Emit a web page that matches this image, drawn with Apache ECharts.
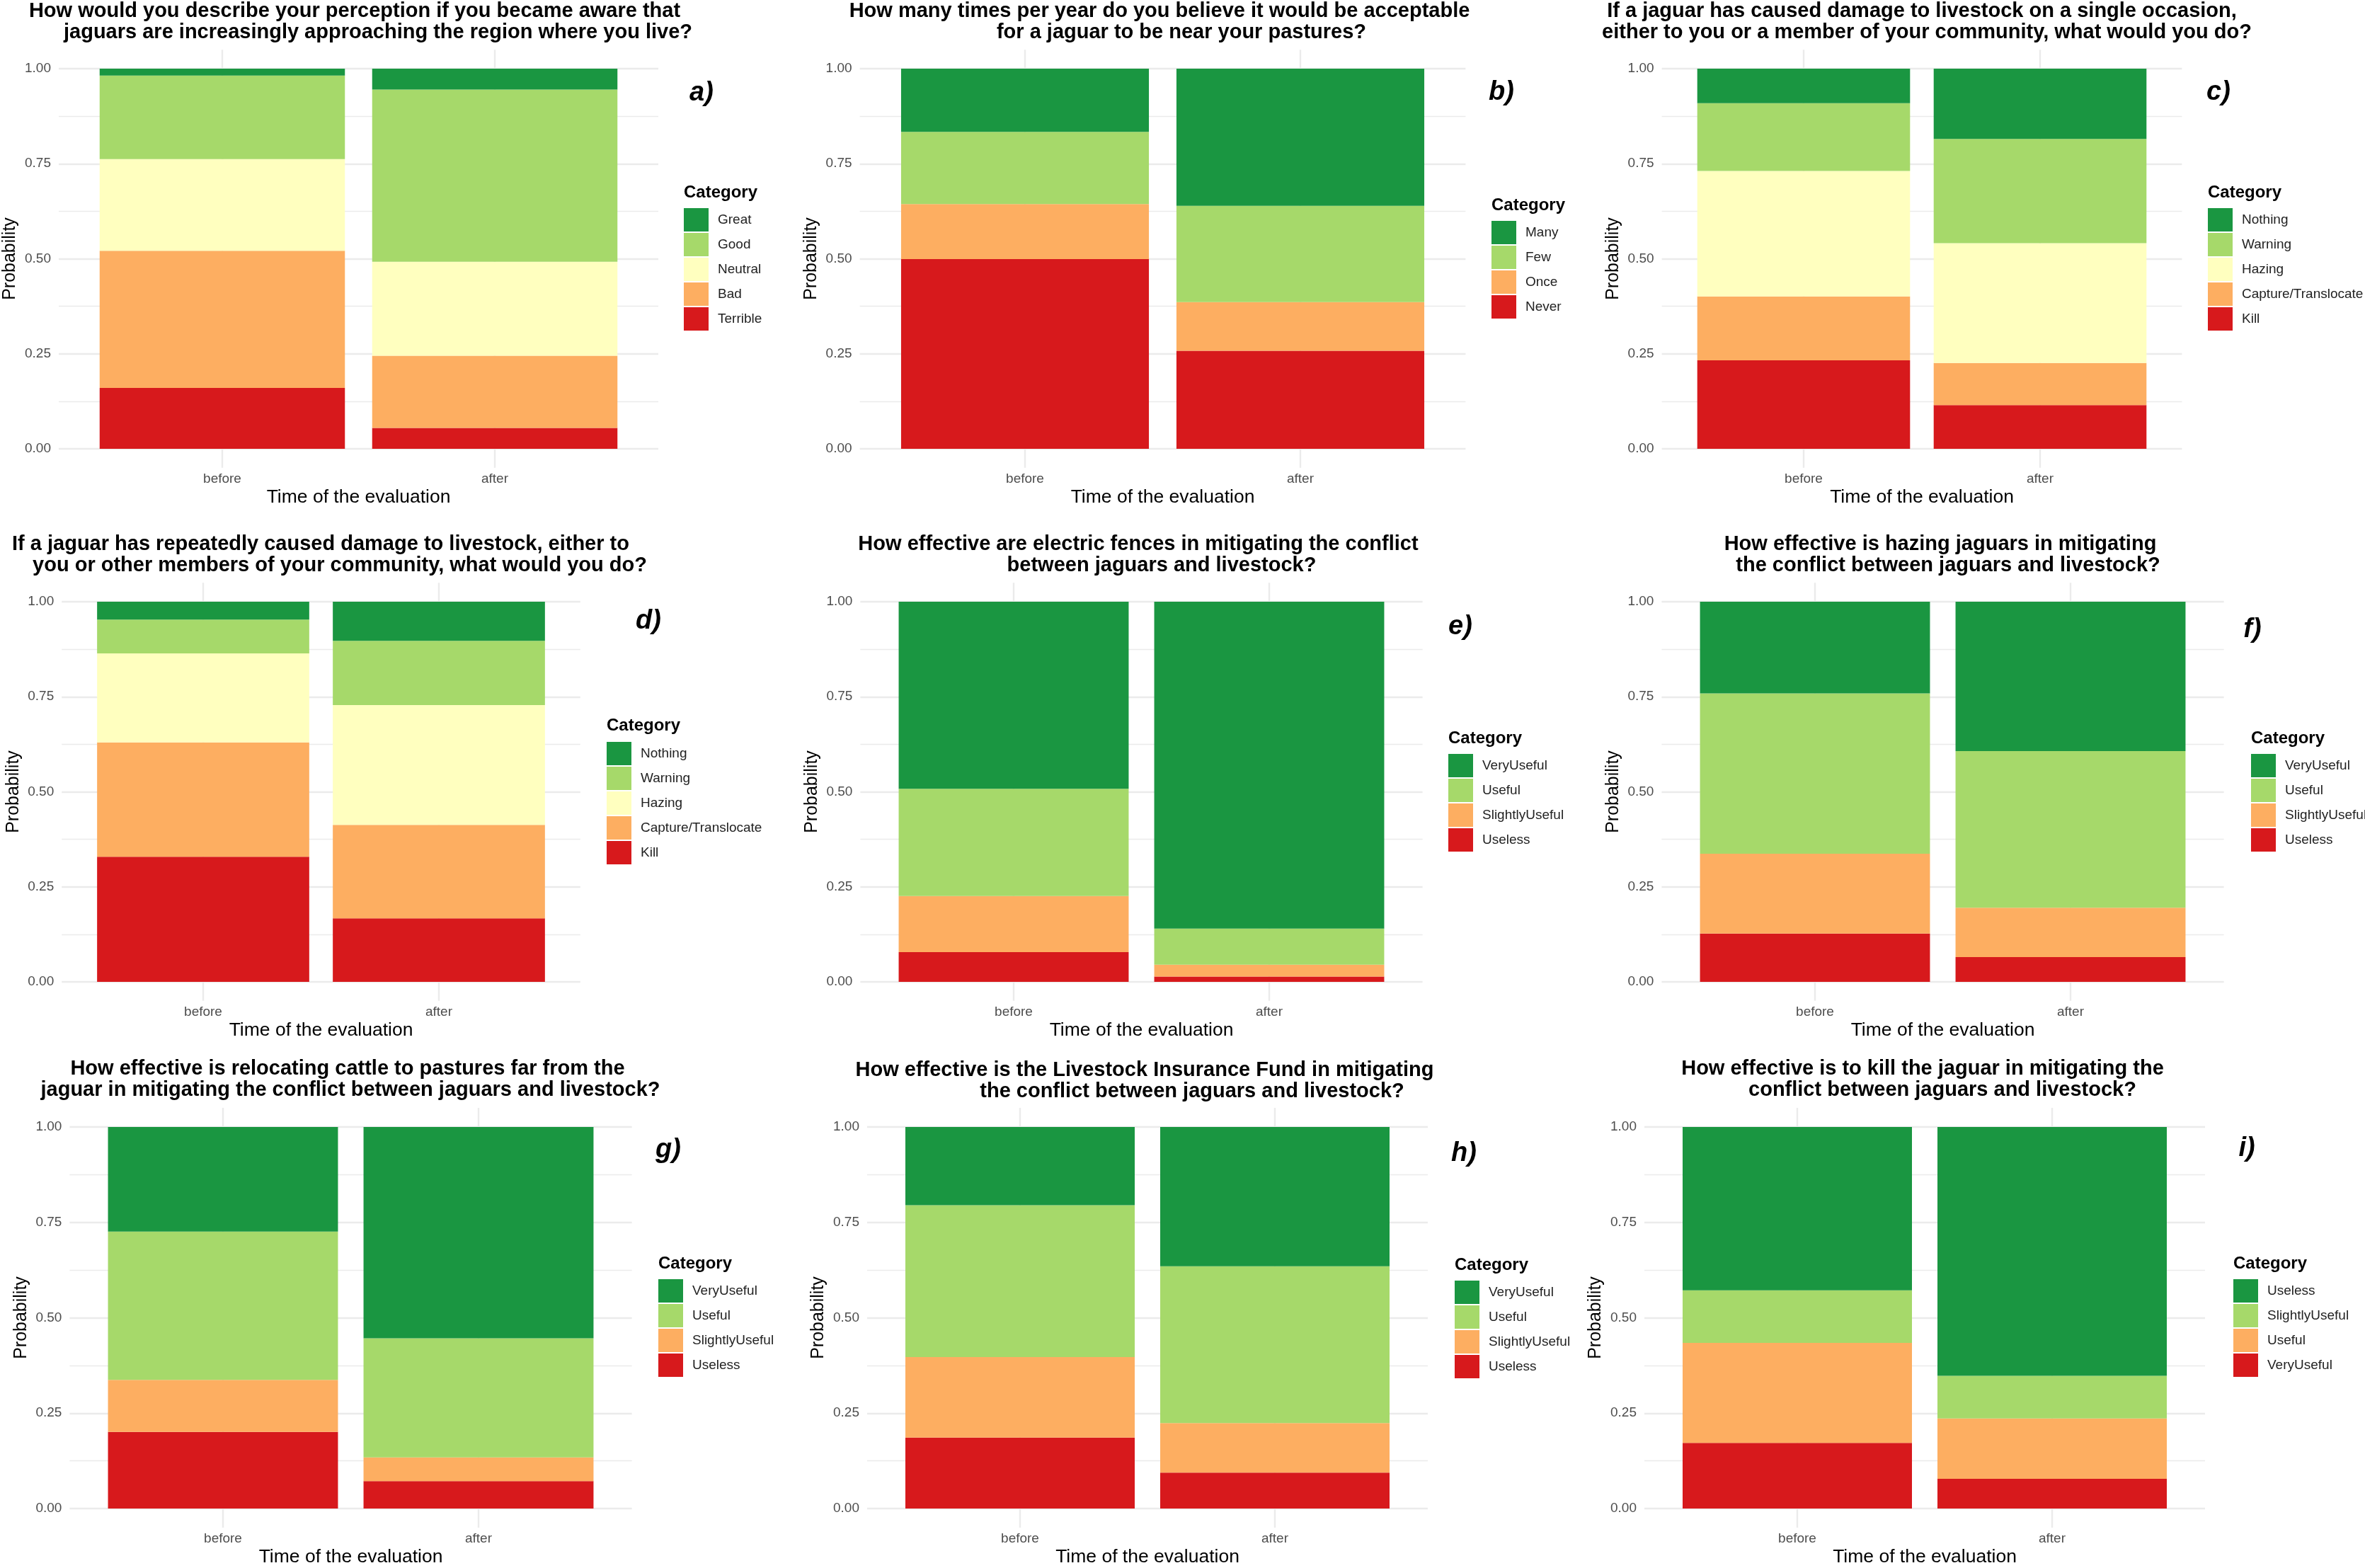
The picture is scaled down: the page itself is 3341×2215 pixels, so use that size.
<!DOCTYPE html>
<html><head><meta charset="utf-8">
<script src="https://cdn.jsdelivr.net/npm/echarts@6/dist/echarts.min.js"></script>
<style>html,body{margin:0;padding:0;background:#fff}#c{width:3341px;height:2215px}</style>
</head><body><div id="c"></div>
<script>
// ---------------- DATA ----------------
const times = ['before', 'after'];
const yTickValues = [0, 0.25, 0.5, 0.75, 1];

const perceptionCategories = ['Terrible', 'Bad', 'Neutral', 'Good', 'Great'];
const perceptionBefore = [0.160, 0.361, 0.241, 0.220, 0.018];
const perceptionAfter  = [0.055, 0.190, 0.247, 0.453, 0.055];

const frequencyCategories = ['Never', 'Once', 'Few', 'Many'];
const frequencyBefore = [0.499, 0.145, 0.190, 0.166];
const frequencyAfter  = [0.258, 0.128, 0.253, 0.361];

const actionCategories = ['Kill', 'Capture/Translocate', 'Hazing', 'Warning', 'Nothing'];
const singleBefore   = [0.233, 0.168, 0.330, 0.178, 0.091];
const singleAfter    = [0.115, 0.111, 0.315, 0.274, 0.185];
const repeatedBefore = [0.329, 0.301, 0.234, 0.089, 0.047];
const repeatedAfter  = [0.167, 0.246, 0.315, 0.169, 0.103];

const usefulnessCategories = ['Useless', 'SlightlyUseful', 'Useful', 'VeryUseful'];
const fencesBefore     = [0.078, 0.148, 0.282, 0.492];
const fencesAfter      = [0.014, 0.031, 0.095, 0.860];
const hazingBefore     = [0.127, 0.210, 0.422, 0.241];
const hazingAfter      = [0.065, 0.130, 0.412, 0.393];
const relocatingBefore = [0.201, 0.136, 0.389, 0.274];
const relocatingAfter  = [0.072, 0.062, 0.312, 0.554];
const insuranceBefore  = [0.186, 0.211, 0.398, 0.205];
const insuranceAfter   = [0.094, 0.130, 0.411, 0.365];

const killCategories = ['VeryUseful', 'Useful', 'SlightlyUseful', 'Useless'];
const killBefore = [0.172, 0.262, 0.138, 0.428];
const killAfter  = [0.078, 0.158, 0.112, 0.652];

const panelTitles = {
  a: ['How would you describe your perception if you became aware that', 'jaguars are increasingly approaching the region where you live?'],
  b: ['How many times per year do you believe it would be acceptable', 'for a jaguar to be near your pastures?'],
  c: ['If a jaguar has caused damage to livestock on a single occasion,', 'either to you or a member of your community, what would you do?'],
  d: ['If a jaguar has repeatedly caused damage to livestock, either to', 'you or other members of your community, what would you do?'],
  e: ['How effective are electric fences in mitigating the conflict', 'between jaguars and livestock?'],
  f: ['How effective is hazing jaguars in mitigating', 'the conflict between jaguars and livestock?'],
  g: ['How effective is relocating cattle to pastures far from the', 'jaguar in mitigating the conflict between jaguars and livestock?'],
  h: ['How effective is the Livestock Insurance Fund in mitigating', 'the conflict between jaguars and livestock?'],
  i: ['How effective is to kill the jaguar in mitigating the', 'conflict between jaguars and livestock?']
};

// ---------------- STYLE / LAYOUT ----------------
const FONT = '"Liberation Sans", Arial, Helvetica, sans-serif';
const GRID_COLOR = '#ebebeb';
const PAL5 = ['#d7191c', '#fdae61', '#ffffbf', '#a6d96a', '#1a9641'];
const PAL4 = ['#d7191c', '#fdae61', '#a6d96a', '#1a9641'];
const ROWS = [{oy: 0, y1: 97, y0: 634, t1y: 16, t2y: 46},
              {oy: 740, y1: 110, y0: 647, t1y: 29, t2y: 59},
              {oy: 1480, y1: 112, y0: 651, t1y: 30, t2y: 60}];

const panels = [
  {key: 'a', cats: perceptionCategories, before: perceptionBefore, after: perceptionAfter, colors: PAL5,
   L: {ox: 0, row: 0, c1: 314, c2: 699, lx: 966, ly: 294, cy: 272, kx: 991, ky: 132, t1x: 501, t2x: 534}},
  {key: 'b', cats: frequencyCategories, before: frequencyBefore, after: frequencyAfter, colors: PAL4,
   L: {ox: 1114, row: 0, c1: 334, c2: 723, lx: 993, ly: 312, cy: 290, kx: 1007, ky: 131, t1x: 524, t2x: 555}},
  {key: 'c', cats: actionCategories, before: singleBefore, after: singleAfter, colors: PAL5,
   L: {ox: 2228, row: 0, c1: 320, c2: 654, lx: 891, ly: 294, cy: 272, kx: 906, ky: 131, t1x: 487, t2x: 494}},
  {key: 'd', cats: actionCategories, before: repeatedBefore, after: repeatedAfter, colors: PAL5,
   L: {ox: 0, row: 1, c1: 287, c2: 620, lx: 857, ly: 308, cy: 285, kx: 916, ky: 138, t1x: 453, t2x: 480}},
  {key: 'e', cats: usefulnessCategories, before: fencesBefore, after: fencesAfter, colors: PAL4,
   L: {ox: 1114, row: 1, c1: 318, c2: 679, lx: 932, ly: 325, cy: 303, kx: 949, ky: 146, t1x: 494, t2x: 527}},
  {key: 'f', cats: usefulnessCategories, before: hazingBefore, after: hazingAfter, colors: PAL4,
   L: {ox: 2228, row: 1, c1: 336, c2: 697, lx: 952, ly: 325, cy: 303, kx: 954, ky: 150, t1x: 513, t2x: 524}},
  {key: 'g', cats: usefulnessCategories, before: relocatingBefore, after: relocatingAfter, colors: PAL4,
   L: {ox: 0, row: 2, c1: 315, c2: 676, lx: 930, ly: 327, cy: 305, kx: 944, ky: 145, t1x: 491, t2x: 495}},
  {key: 'h', cats: usefulnessCategories, before: insuranceBefore, after: insuranceAfter, colors: PAL4,
   L: {ox: 1114, row: 2, c1: 327, c2: 687, lx: 941, ly: 329, cy: 307, kx: 954, ky: 150, t1x: 503, t2x: 570, dty: 2}},
  {key: 'i', cats: killCategories, before: killBefore, after: killAfter, colors: PAL4,
   L: {ox: 2228, row: 2, c1: 311, c2: 671, lx: 927, ly: 327, cy: 305, kx: 946, ky: 143, t1x: 488, t2x: 516}}
];

const grids = [], xAxes = [], yAxes = [], series = [], legends = [], graphics = [];

function textEl(x, y, text, font, align) {
  return {type: 'text', x: x, y: y, silent: true,
    style: {text: text, font: font, fill: '#000', align: align, verticalAlign: 'middle',
            textAlign: align, textVerticalAlign: 'middle'}};
}

panels.forEach(p => {
  const L = p.L, row = ROWS[L.row];
  const u = L.c2 - L.c1;
  const top = row.oy + row.y1;
  const R = row.y0 - row.y1;
  const plotLeft = L.ox + L.c1 - 0.6 * u;

  // background grid: horizontal gridlines + y labels
  let g = grids.length;
  grids.push({left: plotLeft, top: top, width: 2.2 * u, height: R});
  xAxes.push({gridIndex: g, type: 'category', data: times, show: false});
  yAxes.push({gridIndex: g, type: 'value', min: yTickValues[0], max: yTickValues[yTickValues.length - 1], interval: 0.25,
    axisLine: {show: false}, axisTick: {show: false},
    axisLabel: {formatter: v => v.toFixed(2), color: '#4d4d4d', fontSize: 19, fontFamily: FONT, margin: 11},
    splitLine: {show: true, lineStyle: {color: GRID_COLOR, width: 2.4}},
    minorTick: {show: false, splitNumber: 2},
    minorSplitLine: {show: true, lineStyle: {color: GRID_COLOR, width: 1.3}},
    name: 'Probability', nameLocation: 'middle', nameRotate: 90, nameGap: 56,
    nameTextStyle: {fontSize: 25, color: '#000', fontFamily: FONT}});

  // vertical gridlines at categories + x labels + x title
  g = grids.length;
  grids.push({left: L.ox + L.c1, top: top - 0.05 * R, width: u, height: 1.1 * R});
  xAxes.push({gridIndex: g, type: 'category', data: times, boundaryGap: false,
    axisLine: {show: false}, axisTick: {show: false},
    axisLabel: {interval: 0, color: '#4d4d4d', fontSize: 19, fontFamily: FONT, margin: 6},
    splitLine: {show: true, interval: 0, lineStyle: {color: GRID_COLOR, width: 2.4}},
    name: 'Time of the evaluation', nameLocation: 'middle', nameGap: 28,
    nameTextStyle: {fontSize: 26.5, color: '#000', fontFamily: FONT}});
  yAxes.push({gridIndex: g, type: 'value', min: -0.05, max: 1.05, show: false});

  // bars
  g = grids.length;
  grids.push({left: L.ox + L.c1 - 0.5 * u, top: top, width: 2 * u, height: R});
  xAxes.push({gridIndex: g, type: 'category', data: times, show: false});
  yAxes.push({gridIndex: g, type: 'value', min: 0, max: 1, show: false});
  p.cats.forEach((cat, k) => {
    series.push({type: 'bar', name: p.key + '|' + cat, stack: 'stack_' + p.key,
      xAxisIndex: g, yAxisIndex: g, barWidth: '90%', silent: true,
      itemStyle: {color: p.colors[k]}, emphasis: {disabled: true},
      data: [p.before[k], p.after[k]]});
  });

  legends.push({orient: 'vertical', left: L.ox + L.lx, top: row.oy + L.ly, padding: 0,
    itemWidth: 35, itemHeight: 33, itemGap: 2, icon: 'rect', selectedMode: false,
    data: p.cats.slice().reverse().map(c => p.key + '|' + c),
    formatter: n => n.split('|')[1],
    textStyle: {fontSize: 19, color: '#222', fontFamily: FONT, padding: [0, 0, 0, 8]}});

  const dty = L.dty || 0;
  graphics.push(textEl(L.ox + L.t1x, row.oy + row.t1y + dty, panelTitles[p.key][0], `bold 29px ${FONT}`, 'center'));
  graphics.push(textEl(L.ox + L.t2x, row.oy + row.t2y + dty, panelTitles[p.key][1], `bold 29px ${FONT}`, 'center'));
  graphics.push(textEl(L.ox + L.lx, row.oy + L.cy, 'Category', `bold 24px ${FONT}`, 'left'));
  graphics.push(textEl(L.ox + L.kx, row.oy + L.ky, p.key + ')', `italic bold 38px ${FONT}`, 'center'));
});

const chart = echarts.init(document.getElementById('c'), null, {renderer: 'canvas'});
chart.setOption({
  animation: false,
  backgroundColor: '#ffffff',
  textStyle: {fontFamily: FONT},
  grid: grids, xAxis: xAxes, yAxis: yAxes, series: series, legend: legends,
  graphic: {elements: graphics}
});
</script></body></html>
